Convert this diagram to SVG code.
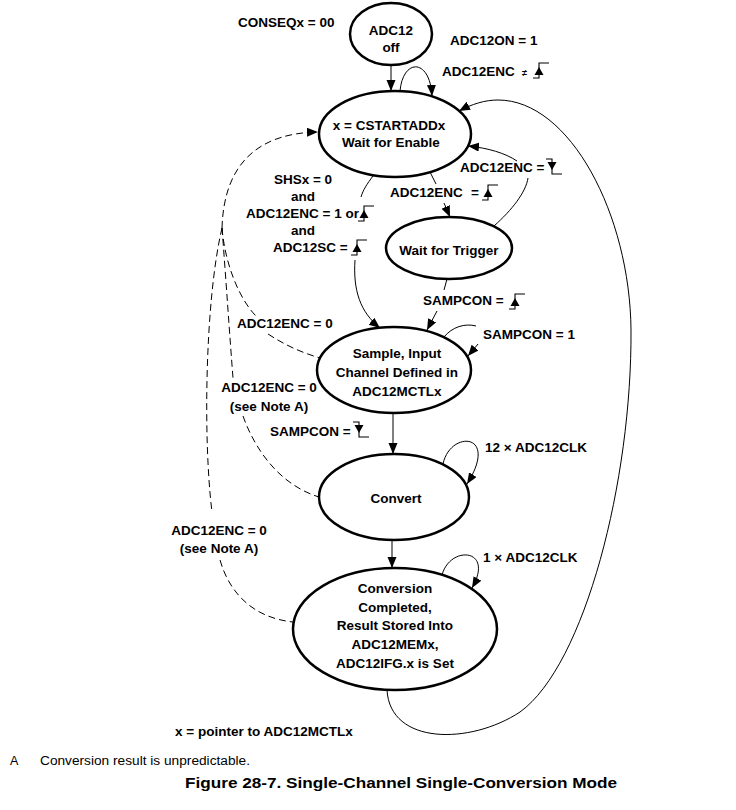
<svg xmlns="http://www.w3.org/2000/svg" xmlns:xlink="http://www.w3.org/1999/xlink" width="736" height="810" viewBox="0 0 736 810">
<style>
.node{fill:#fff;stroke:#000;stroke-width:2.5}
.t{font-family:"Liberation Sans",Arial,sans-serif;font-weight:bold;font-size:13.5px;fill:#000}
.c{text-anchor:middle}
.ln{fill:none;stroke:#000;stroke-width:1}
.dash{fill:none;stroke:#000;stroke-width:1;stroke-dasharray:7 4}
.sym{fill:none;stroke:#000;stroke-width:1.1}
.note{font-family:"Liberation Sans",Arial,sans-serif;font-size:12.5px;fill:#000}
</style>
<defs>
<marker id="arr" markerUnits="userSpaceOnUse" markerWidth="12" markerHeight="10" refX="11" refY="4.5" orient="auto">
<path d="M0 0L11 4.5L0 9Z" fill="#000"/>
</marker>
<g id="rise"><path class="sym" d="M0 0H6V-15H16"/><path d="M1.5 -3H10.5L6 -11Z" fill="#000"/></g>
<g id="fall"><path class="sym" d="M0 -15H6V0H16"/><path d="M1.5 -12H10.5L6 -4Z" fill="#000"/></g>
</defs>
<rect width="736" height="810" fill="#fff"/>

<g id="connectors">
<path class="ln" d="M391 65L391 91" marker-end="url(#arr)"/>
<path class="ln" d="M400 91C403 58 430 58 432 96" marker-end="url(#arr)"/>
<path class="ln" d="M387 690C390 745 470 745 520 712C585 665 632 480 631 330C630 215 570 100 498 100C485 100 472 104 459 111" marker-end="url(#arr)"/>
<path class="ln" d="M494 226C512 210 526 192 528 178"/>
<path class="ln" d="M517 161C505 153 488 148 468 146" marker-end="url(#arr)"/>
<path class="ln" d="M430 172L436 184"/>
<path class="ln" d="M444 203L450 217" marker-end="url(#arr)"/>
<path class="ln" d="M373 176C367 184 363 190 361 197"/>
<path class="ln" d="M355 260C353 290 360 312 380 328" marker-end="url(#arr)"/>
<path class="ln" d="M447 279L444 290"/>
<path class="ln" d="M437 311L427 330" marker-end="url(#arr)"/>
<path class="ln" d="M444 337C452 327 465 323 476 326"/>
<path class="ln" d="M478 344L468 356" marker-end="url(#arr)"/>
<path class="ln" d="M393 413L393 454" marker-end="url(#arr)"/>
<path class="ln" d="M443 464C450 430 500 432 467 484" marker-end="url(#arr)"/>
<path class="ln" d="M392 540L392 568" marker-end="url(#arr)"/>
<path class="ln" d="M442 575C450 545 495 548 472 588" marker-end="url(#arr)"/>
<path class="dash" d="M222 228C224 160 262 133 318 132" marker-end="url(#arr)"/>
<path class="dash" d="M222 228C225 265 240 300 256 316"/>
<path class="dash" d="M268 334C285 345 300 352 320 358"/>
<path class="dash" d="M222 228C226 280 230 340 233 378"/>
<path class="dash" d="M243 416C255 450 280 485 319 497"/>
<path class="dash" d="M222 228C205 300 203 440 212 512"/>
<path class="dash" d="M220 560C230 595 255 618 293 622"/>
</g>

<g id="node-off">
<ellipse class="node" cx="391" cy="34" rx="41" ry="31"/>
<text class="t c" x="391" y="35">ADC12</text>
<text class="t c" x="391" y="52">off</text>
</g>
<g id="node-enable">
<ellipse class="node" cx="395" cy="134" rx="76" ry="43"/>
<text class="t c" x="389" y="130">x = CSTARTADDx</text>
<text class="t c" x="391" y="147">Wait for Enable</text>
</g>
<g id="node-trigger">
<ellipse class="node" cx="449" cy="248" rx="63" ry="31"/>
<text class="t c" x="449" y="255">Wait for Trigger</text>
</g>
<g id="node-sample">
<ellipse class="node" cx="394" cy="370" rx="77" ry="43"/>
<text class="t c" x="397" y="358">Sample, Input</text>
<text class="t c" x="397" y="377">Channel Defined in</text>
<text class="t c" x="397" y="396">ADC12MCTLx</text>
</g>
<g id="node-convert">
<ellipse class="node" cx="394" cy="497" rx="75" ry="43"/>
<text class="t c" x="396" y="503">Convert</text>
</g>
<g id="node-completed">
<ellipse class="node" cx="395" cy="629" rx="102" ry="61"/>
<text class="t c" x="395" y="593">Conversion</text>
<text class="t c" x="395" y="612">Completed,</text>
<text class="t c" x="395" y="630">Result Stored Into</text>
<text class="t c" x="395" y="649">ADC12MEMx,</text>
<text class="t c" x="395" y="668">ADC12IFG.x is Set</text>
</g>

<g id="labels">
<text class="t" x="238" y="27">CONSEQx = 00</text>
<text class="t" x="450" y="45">ADC12ON = 1</text>
<text class="t" x="442" y="76">ADC12ENC</text>
<text class="t" x="522" y="76" style="font-size:9px">≠</text>
<use xlink:href="#rise" x="533" y="78"/>
<text class="t" x="460" y="172">ADC12ENC =</text>
<use xlink:href="#fall" x="546" y="174"/>
<text class="t" x="390" y="197">ADC12ENC</text>
<text class="t" x="471" y="197">=</text>
<use xlink:href="#rise" x="482" y="200"/>
<text class="t c" x="303" y="184">SHSx = 0</text>
<text class="t c" x="303" y="201">and</text>
<text class="t" x="246" y="218">ADC12ENC = 1 or</text>
<use xlink:href="#rise" x="358" y="221"/>
<text class="t c" x="303" y="235">and</text>
<text class="t" x="273" y="252">ADC12SC =</text>
<use xlink:href="#rise" x="351" y="255"/>
<text class="t" x="423" y="305">SAMPCON =</text>
<use xlink:href="#rise" x="509" y="309"/>
<text class="t" x="237" y="328">ADC12ENC = 0</text>
<text class="t" x="483" y="339">SAMPCON = 1</text>
<text class="t c" x="269" y="392">ADC12ENC = 0</text>
<text class="t c" x="269" y="411">(see Note A)</text>
<text class="t" x="270" y="436">SAMPCON =</text>
<use xlink:href="#fall" x="353" y="437"/>
<text class="t" x="485" y="452">12 × ADC12CLK</text>
<text class="t c" x="219" y="535">ADC12ENC = 0</text>
<text class="t c" x="219" y="553">(see Note A)</text>
<text class="t" x="483" y="562">1 × ADC12CLK</text>
<text class="t" x="175" y="736">x = pointer to ADC12MCTLx</text>
<text class="note" x="10" y="765">A</text>
<text class="note" x="40" y="765" textLength="210" lengthAdjust="spacingAndGlyphs">Conversion result is unpredictable.</text>
<text x="185" y="788" textLength="432" lengthAdjust="spacingAndGlyphs" style="font-family:'Liberation Sans',Arial,sans-serif;font-size:15px;font-weight:bold">Figure 28-7. Single-Channel Single-Conversion Mode</text>
</g>
</svg>
